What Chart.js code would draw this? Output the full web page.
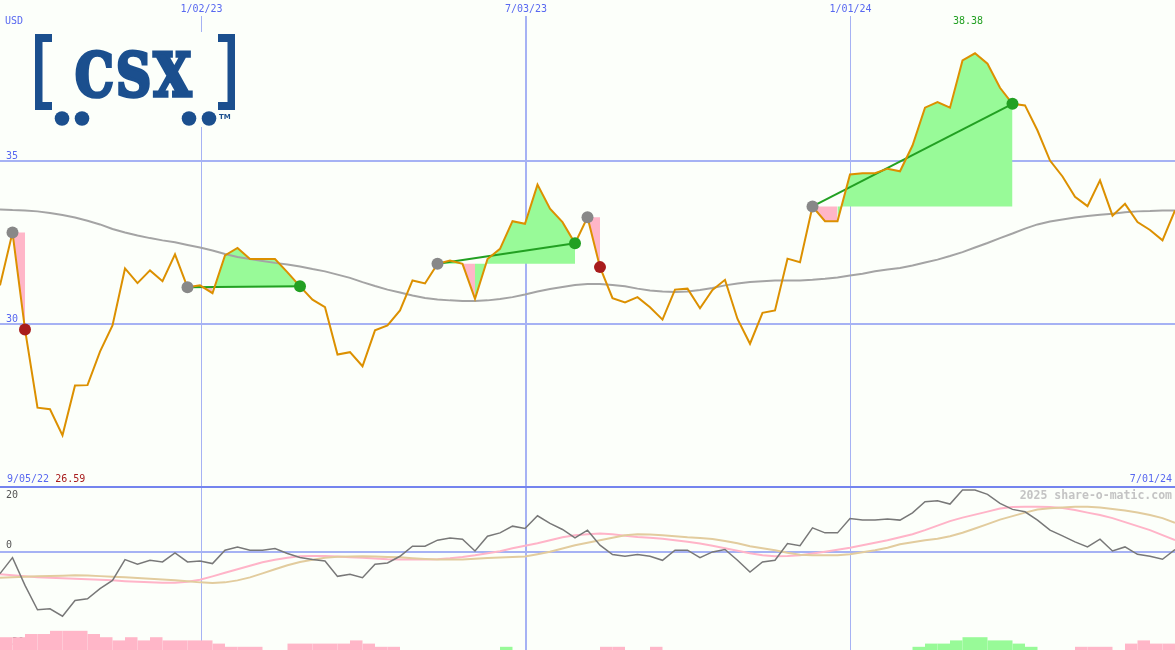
<!DOCTYPE html>
<html lang="en">
  <head>
    <meta charset="UTF-8" />
    <title>CSX weekly chart</title>
    <script src="https://cdn.jsdelivr.net/npm/chart.js"></script>
    <style>
      html, body { margin: 0; padding: 0; background: #fcfffa; }
      #wrap { position: relative; width: 1175px; height: 650px; overflow: hidden; }
      #priceChart { position: absolute; left: 0; top: 0; }
      #oscChart { position: absolute; left: 0; top: 486px; }
    </style>
  </head>
  <body>
    <div id="wrap">
      <canvas id="priceChart" width="1175" height="486"></canvas>
      <canvas id="oscChart" width="1175" height="164"></canvas>
    </div>

    <script>
      // weekly closes, one per week (index 0 = first week on the chart)
      const closePrices = [
        31.20, 32.82, 29.85, 27.45, 27.40, 26.60, 28.13, 28.14, 29.17, 29.97,
        31.72, 31.27, 31.66, 31.33, 32.15, 31.14, 31.20, 30.96, 32.12, 32.35,
        32.01, 32.01, 32.01, 31.60, 31.17, 30.76, 30.53, 29.08, 29.15, 28.72,
        29.82, 29.97, 30.43, 31.35, 31.26, 31.86, 31.96, 31.86, 30.79, 32.01,
        32.32, 33.17, 33.09, 34.29, 33.55, 33.14, 32.49, 33.29, 31.76, 30.81,
        30.68, 30.84, 30.53, 30.15, 31.07, 31.10, 30.50, 31.06, 31.37, 30.17,
        29.41, 30.36, 30.43, 32.02, 31.91, 33.62, 33.17, 33.17, 34.60, 34.64,
        34.64, 34.78, 34.70, 35.49, 36.65, 36.82, 36.65, 38.10, 38.32, 38.00,
        37.26, 36.77, 36.72, 35.95, 35.03, 34.54, 33.92, 33.63, 34.42, 33.34,
        33.70, 33.14, 32.90, 32.58, 33.50
      ];
      // slow moving average (grey)
      const movingAvg = [
        33.53, 33.51, 33.50, 33.47, 33.42, 33.36, 33.28, 33.18, 33.07, 32.93,
        32.82, 32.73, 32.65, 32.58, 32.52, 32.44, 32.36, 32.27, 32.16, 32.07,
        32.01, 31.95, 31.89, 31.84, 31.78, 31.70, 31.63, 31.53, 31.43, 31.30,
        31.18, 31.07, 30.98, 30.89, 30.81, 30.77, 30.74, 30.72, 30.72, 30.74,
        30.78, 30.84, 30.92, 31.01, 31.09, 31.15, 31.21, 31.24, 31.24, 31.21,
        31.17, 31.10, 31.04, 31.01, 31.00, 31.01, 31.06, 31.12, 31.20, 31.26,
        31.30, 31.33, 31.35, 31.35, 31.35, 31.37, 31.40, 31.44, 31.50, 31.56,
        31.63, 31.69, 31.73, 31.81, 31.90, 31.99, 32.10, 32.22, 32.36, 32.50,
        32.65, 32.79, 32.94, 33.07, 33.16, 33.22, 33.28, 33.33, 33.37, 33.40,
        33.44, 33.47, 33.48, 33.50, 33.50
      ];
      // trades: week index of entry and exit
      const tradeEntries = [1, 15, 35, 47, 65];
      const tradeExits = [2, 24, 46, 48, 81];

      // lower panel
      const oscLine = [
        -6.76, -1.80, -10.39, -17.92, -17.61, -19.91, -15.04, -14.51, -11.41, -8.84,
        -2.42, -3.88, -2.64, -3.16, -0.37, -3.16, -2.85, -3.66, 0.47, 1.49,
        0.47, 0.47, 0.99, -0.56, -1.80, -2.42, -2.85, -7.60, -6.98, -8.00,
        -3.88, -3.47, -1.40, 1.71, 1.71, 3.57, 4.28, 3.88, 0.25, 4.81,
        5.83, 7.91, 7.19, 11.10, 8.74, 6.88, 4.28, 6.67, 2.02, -0.87,
        -1.40, -0.87, -1.40, -2.64, 0.47, 0.47, -1.80, -0.06, 0.68, -2.64,
        -6.26, -3.16, -2.64, 2.54, 1.86, 7.38, 5.83, 5.83, 10.29, 9.77,
        9.77, 10.08, 9.77, 12.03, 15.44, 15.75, 14.73, 19.07, 19.07, 17.74,
        14.95, 13.09, 12.34, 9.77, 6.67, 4.90, 3.04, 1.49, 3.88, 0.25,
        1.49, -0.78, -1.40, -2.33, 0.68
      ];
      const oscSignal = [
        -6.98, -7.29, -7.60, -7.91, -8.06, -8.22, -8.31, -8.47, -8.62, -8.84,
        -9.09, -9.30, -9.46, -9.61, -9.61, -9.30, -8.62, -7.60, -6.51, -5.43,
        -4.34, -3.26, -2.48, -1.86, -1.40, -1.30, -1.33, -1.49, -1.71, -1.89,
        -2.11, -2.33, -2.42, -2.42, -2.42, -2.33, -2.02, -1.61, -1.09, -0.47,
        0.16, 1.09, 1.86, 2.64, 3.57, 4.50, 5.12, 5.43, 5.64, 5.43,
        4.96, 4.59, 4.34, 4.03, 3.57, 3.10, 2.54, 1.86, 1.09, 0.31,
        -0.47, -1.09, -1.40, -1.33, -1.09, -0.56, 0.00, 0.62, 1.24, 2.02,
        2.79, 3.57, 4.50, 5.43, 6.67, 8.06, 9.46, 10.54, 11.47, 12.40,
        13.33, 13.80, 13.89, 13.89, 13.80, 13.49, 12.87, 12.09, 11.32, 10.39,
        9.15, 7.91, 6.67, 5.12, 3.57
      ];
      const oscSlow = [
        -8.00, -7.91, -7.75, -7.60, -7.50, -7.38, -7.29, -7.35, -7.53, -7.69,
        -7.91, -8.09, -8.31, -8.59, -8.84, -9.15, -9.46, -9.67, -9.46, -8.84,
        -7.91, -6.67, -5.43, -4.19, -3.16, -2.48, -1.86, -1.55, -1.46, -1.40,
        -1.49, -1.61, -1.71, -2.02, -2.26, -2.42, -2.42, -2.42, -2.17, -1.95,
        -1.80, -1.64, -1.49, -0.78, 0.00, 0.99, 2.02, 2.79, 3.57, 4.34,
        5.12, 5.43, 5.36, 5.12, 4.81, 4.50, 4.28, 3.97, 3.35, 2.64,
        1.71, 1.09, 0.47, -0.31, -0.93, -1.09, -1.09, -1.09, -0.78, -0.16,
        0.47, 1.24, 2.33, 2.95, 3.57, 4.03, 4.81, 5.89, 7.19, 8.53,
        9.92, 11.01, 12.09, 13.02, 13.40, 13.64, 13.89, 13.89, 13.64, 13.18,
        12.71, 12.09, 11.32, 10.39, 8.93
      ];
      // histogram between weeks (negative = pink, positive = green)
      const histBars = [
        -4, -4, -5, -5, -6, -6, -6, -5, -4, -3,
        -4, -3, -4, -3, -3, -3, -3, -2, -1, -1,
        -1, 0, 0, -2, -2, -2, -2, -2, -3, -2,
        -1, -1, 0, 0, 0, 0, 0, 0, 0, 0,
        1, 0, 0, 0, 0, 0, 0, 0, -1, -1,
        0, 0, -1, 0, 0, 0, 0, 0, 0, 0,
        0, 0, 0, 0, 0, 0, 0, 0, 0, 0,
        0, 0, 0, 1, 2, 2, 3, 4, 4, 3,
        3, 2, 1, 0, 0, 0, -1, -1, -1, 0,
        -2, -3, -2, -2
      ];

      const dateTickPos = [16.12, 42.08, 68.04];
      const dateTickLabels = ["1/02/23", "7/03/23", "1/01/24"];
      const priceTicks = [30, 35];
      const oscTicks = [20, 0, -30];
      const startDate = "9/05/22";
      const endDate = "7/01/24";
      const lowLabel = "26.59";
      const highLabel = "38.38";
      const highIndex = 78;

      // colours
      const bg = "#fcfffa";
      const axisBlue = "#5868f0";
      const gridBlue = "#a6b2f4";
      const sepBlue = "#7484ee";
      const orange = "#dc9000";
      const maGray = "#a4a4a4";
      const winGreen = "#22a022";
      const lossRed = "#a81c1c";
      const entryGray = "#888888";
      const fillGreen = "#98fa98";
      const fillPink = "#ffb6c8";
      const logoBlue = "#1b4f8e";

      Chart.defaults.font.family = '"DejaVu Sans Mono", monospace';
      Chart.defaults.font.size = 10;

      const pts = (arr) => arr.map((y, i) => ({ x: i, y }));
      const isWin = (t) => closePrices[tradeExits[t]] > closePrices[tradeEntries[t]];

      const tradeFills = tradeEntries.map((start, t) => {
        const end = tradeExits[t];
        const level = closePrices[start];
        return {
          type: "line",
          data: closePrices.slice(start, end + 1).map((y, k) => ({ x: start + k, y })),
          borderColor: "transparent",
          borderWidth: 0,
          pointRadius: 0,
          backgroundColor: fillGreen,
          fill: { target: { value: level } },
          segment: {
            backgroundColor: (c) => (c.p1.parsed.y >= level ? fillGreen : fillPink),
          },
          order: 5,
        };
      });

      const tradeLines = tradeEntries
        .map((start, t) => ({
          type: "line",
          data: [
            { x: start, y: closePrices[start] },
            { x: tradeExits[t], y: closePrices[tradeExits[t]] },
          ],
          borderColor: winGreen,
          borderWidth: 2,
          pointRadius: 0,
          order: 2,
          win: isWin(t),
        }))
        .filter((d) => d.win);

      function drawLogo(ctx) {
        ctx.fillStyle = bg;
        ctx.fillRect(33, 32, 206, 95);
        ctx.fillStyle = logoBlue;
        ctx.strokeStyle = logoBlue;
        // brackets
        ctx.fillRect(35, 34, 7.5, 76);
        ctx.fillRect(35, 34, 17, 8);
        ctx.fillRect(35, 102, 17, 8);
        ctx.fillRect(227.5, 34, 7.5, 76);
        ctx.fillRect(218, 34, 17, 8);
        ctx.fillRect(218, 102, 17, 8);
        // wheels
        [62, 82, 189, 209].forEach((cx) => {
          ctx.beginPath();
          ctx.arc(cx, 118.5, 7.3, 0, Math.PI * 2);
          ctx.fill();
        });
        // letters, thickened a little with a stroke
        ctx.font = 'bold 64px "DejaVu Serif"';
        ctx.textAlign = "left";
        ctx.textBaseline = "alphabetic";
        ctx.letterSpacing = "3px";
        const m = ctx.measureText("CSX");
        const tw = m.actualBoundingBoxLeft + m.actualBoundingBoxRight;
        const th = m.actualBoundingBoxAscent;
        const sx = 115 / tw;
        const sy = 44 / th;
        ctx.save();
        ctx.translate(76.5, 95.5);
        ctx.scale(sx, sy);
        ctx.lineWidth = 3 / sx;
        ctx.lineJoin = "miter";
        ctx.fillText("CSX", m.actualBoundingBoxLeft, 0);
        ctx.strokeText("CSX", m.actualBoundingBoxLeft, 0);
        ctx.restore();
        ctx.letterSpacing = "0px";
        ctx.font = 'bold 7px "DejaVu Sans"';
        ctx.fillText("TM", 219, 119);
      }

      const priceOverlay = {
        id: "priceOverlay",
        afterDraw(chart) {
          const ctx = chart.ctx;
          const xs = chart.scales.x;
          ctx.save();
          drawLogo(ctx);
          ctx.font = '10px "DejaVu Sans Mono"';
          ctx.textBaseline = "middle";
          ctx.textAlign = "left";
          ctx.fillStyle = axisBlue;
          ctx.fillText("USD", 5, 21);
          ctx.fillText(startDate, 7, 479);
          const w = ctx.measureText(startDate + " ").width;
          ctx.fillStyle = lossRed;
          ctx.fillText(lowLabel, 7 + w, 479);
          ctx.textAlign = "right";
          ctx.fillStyle = axisBlue;
          ctx.fillText(endDate, 1172, 479);
          ctx.textAlign = "center";
          ctx.fillStyle = winGreen;
          ctx.fillText(highLabel, xs.getPixelForValue(highIndex) - 7, 21);
          ctx.restore();
        },
      };

      new Chart(document.getElementById("priceChart"), {
        type: "line",
        data: {
          datasets: [
            {
              type: "scatter",
              data: tradeEntries.map((i) => ({ x: i, y: closePrices[i] })),
              backgroundColor: entryGray,
              pointRadius: 6,
              pointBorderWidth: 0,
              order: 0,
            },
            {
              type: "scatter",
              data: tradeExits.map((i) => ({ x: i, y: closePrices[i] })),
              backgroundColor: tradeExits.map((_, t) => (isWin(t) ? winGreen : lossRed)),
              pointRadius: 6,
              pointBorderWidth: 0,
              order: 0,
            },
            {
              data: pts(closePrices),
              borderColor: orange,
              borderWidth: 2,
              pointRadius: 0,
              order: 1,
            },
            ...tradeLines,
            {
              data: pts(movingAvg),
              borderColor: maGray,
              borderWidth: 2,
              pointRadius: 0,
              order: 3,
            },
            ...tradeFills,
          ],
        },
        options: {
          responsive: false,
          animation: false,
          devicePixelRatio: 1,
          events: [],
          layout: { padding: 0, autoPadding: false },
          plugins: { legend: { display: false }, tooltip: { enabled: false } },
          scales: {
            x: {
              type: "linear",
              position: "top",
              min: 0,
              max: closePrices.length - 1,
              afterBuildTicks: (s) => { s.ticks = dateTickPos.map((v) => ({ value: v })); },
              afterFit: (s) => { s.height = 16; s.paddingLeft = 0; s.paddingRight = 0; },
              ticks: {
                color: axisBlue,
                padding: 1,
                maxRotation: 0,
                callback: (v, i) => dateTickLabels[i],
              },
              grid: {
                color: gridBlue,
                lineWidth: (c) => (c.index === 1 ? 2 : 1),
                drawTicks: false,
              },
              border: { display: false },
            },
            y: {
              type: "linear",
              position: "left",
              min: 25.046,
              max: 39.463,
              afterBuildTicks: (s) => { s.ticks = priceTicks.map((v) => ({ value: v })); },
              afterFit: (s) => { s.width = 0; s.paddingTop = 0; s.paddingBottom = 0; },
              ticks: { mirror: true, padding: 6, labelOffset: -5, color: axisBlue },
              grid: { color: gridBlue, lineWidth: 2, drawTicks: false },
              border: { display: false },
            },
          },
        },
        plugins: [priceOverlay],
      });

      const oscOverlay = {
        id: "oscOverlay",
        afterDraw(chart) {
          const ctx = chart.ctx;
          ctx.save();
          ctx.textBaseline = "middle";
          ctx.font = '10px "DejaVu Sans Mono"';
          ctx.fillStyle = "#555555";
          ctx.textAlign = "left";
          ctx.fillText(String(oscTicks[0]), 6, 9);
          ctx.font = 'bold 11.5px "DejaVu Sans Mono"';
          ctx.fillStyle = "#c4c4c4";
          ctx.textAlign = "right";
          ctx.fillText("2025 share-o-matic.com", 1172, 10);
          ctx.restore();
        },
      };

      new Chart(document.getElementById("oscChart"), {
        type: "line",
        data: {
          datasets: [
            {
              type: "bar",
              yAxisID: "yh",
              data: histBars.map((h, j) => ({ x: j + 0.5, y: h === 0 ? null : Math.abs(h) })),
              backgroundColor: histBars.map((h) => (h > 0 ? fillGreen : fillPink)),
              barPercentage: 1,
              categoryPercentage: 1,
              inflateAmount: 0,
              borderWidth: 0,
              order: 5,
            },
            {
              data: pts(oscSignal),
              borderColor: "#ffb4c8",
              borderWidth: 2,
              pointRadius: 0,
              order: 3,
            },
            {
              data: pts(oscSlow),
              borderColor: "#e2cc9e",
              borderWidth: 2,
              pointRadius: 0,
              order: 2,
            },
            {
              data: pts(oscLine),
              borderColor: "#787878",
              borderWidth: 1.5,
              pointRadius: 0,
              order: 1,
            },
          ],
        },
        options: {
          responsive: false,
          animation: false,
          devicePixelRatio: 1,
          events: [],
          layout: { padding: { top: 1 }, autoPadding: false },
          plugins: { legend: { display: false }, tooltip: { enabled: false } },
          scales: {
            x: {
              type: "linear",
              position: "bottom",
              min: 0,
              max: closePrices.length - 1,
              offset: false,
              afterBuildTicks: (s) => { s.ticks = dateTickPos.map((v) => ({ value: v })); },
              afterFit: (s) => { s.height = 0; s.paddingLeft = 0; s.paddingRight = 0; },
              ticks: { display: false },
              grid: {
                offset: false,
                color: gridBlue,
                lineWidth: (c) => (c.index === 1 ? 2 : 1),
                drawTicks: false,
              },
              border: { display: false },
            },
            y: {
              type: "linear",
              position: "left",
              min: -30.35,
              max: 20,
              afterBuildTicks: (s) => { s.ticks = oscTicks.map((v) => ({ value: v })); },
              afterFit: (s) => { s.width = 0; s.paddingTop = 0; s.paddingBottom = 0; },
              ticks: {
                mirror: true,
                padding: 6,
                labelOffset: -6,
                color: "#555555",
                callback: (v) => (v === oscTicks[0] ? "" : String(v)),
              },
              grid: {
                color: (c) => (c.tick.value === 20 ? sepBlue : c.tick.value === 0 ? gridBlue : "transparent"),
                lineWidth: 2,
                drawTicks: false,
              },
              border: { display: false },
            },
            yh: {
              type: "linear",
              display: false,
              min: 0,
              max: 50.94,
            },
          },
        },
        plugins: [oscOverlay],
      });
    </script>
  </body>
</html>
